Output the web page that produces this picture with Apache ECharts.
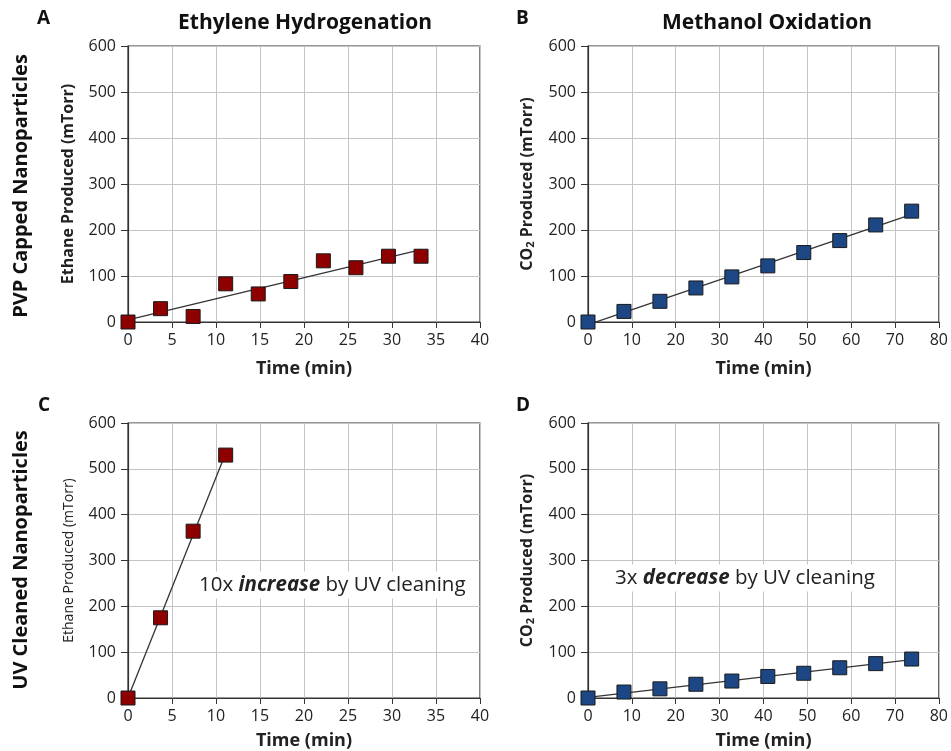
<!DOCTYPE html>
<html>
<head>
<meta charset="utf-8">
<script src="https://cdn.jsdelivr.net/npm/echarts@6/dist/echarts.min.js"></script>
<style>
  html, body { margin: 0; padding: 0; background: #fff; }
  #chart { width: 951px; height: 751px; }
</style>
</head>
<body>
<div id="chart"></div>
<script>
// Panel data
const timeEthyleneA = [0, 3.7, 7.4, 11.1, 14.8, 18.5, 22.2, 25.9, 29.6, 33.3];
const ethaneA = [0, 29, 12, 83, 61, 88, 133, 118, 143, 143];

const timeMethanolB = [0, 8.2, 16.4, 24.6, 32.8, 41.0, 49.2, 57.4, 65.6, 73.8];
const co2B = [0, 23, 45, 74, 98, 122, 151, 177, 211, 241];

const timeEthyleneC = [0, 3.7, 7.4, 11.1];
const ethaneC = [0, 175, 364, 530];

const timeMethanolD = [0, 8.2, 16.4, 24.6, 32.8, 41.0, 49.2, 57.4, 65.6, 73.8];
const co2D = [0, 13, 20, 30, 37, 47, 54, 66, 75, 85];

const yTicks = [0, 100, 200, 300, 400, 500, 600];
const xTicksEthylene = [0, 5, 10, 15, 20, 25, 30, 35, 40];
const xTicksMethanol = [0, 10, 20, 30, 40, 50, 60, 70, 80];

const FONT = '"Open Sans", "Liberation Sans", sans-serif';
const RED = '#8e0000';
const BLUE = '#1c4784';

function zip(xs, ys) { return xs.map((x, i) => [x, ys[i]]); }

// least-squares trend line through the data, from first to last x
function trend(xs, ys) {
  const n = xs.length;
  const mx = xs.reduce((a, b) => a + b, 0) / n;
  const my = ys.reduce((a, b) => a + b, 0) / n;
  let sxy = 0, sxx = 0;
  for (let i = 0; i < n; i++) {
    sxy += (xs[i] - mx) * (ys[i] - my);
    sxx += (xs[i] - mx) * (xs[i] - mx);
  }
  const k = sxy / sxx, b = my - k * mx;
  const x0 = xs[0], x1 = xs[n - 1];
  return [[x0, b + k * x0], [x1, b + k * x1]];
}

const grids = [
  { left: 128, top: 46, width: 352, height: 276 },
  { left: 588, top: 46, width: 352, height: 276 },
  { left: 128, top: 423, width: 352, height: 276 },
  { left: 588, top: 423, width: 352, height: 276 }
];

function xAxis(i, ticks, gap) {
  return {
    type: 'value', gridIndex: i,
    min: ticks[0], max: ticks[ticks.length - 1], interval: ticks[1] - ticks[0],
    name: 'Time (min)', nameLocation: 'middle', nameGap: gap,
    nameTextStyle: { fontFamily: FONT, fontWeight: 'bold', fontSize: 18, color: '#222' },
    axisLine: { lineStyle: { color: '#333', width: 1.2 } },
    axisTick: { show: true, length: 6, lineStyle: { color: '#333' } },
    axisLabel: { fontFamily: FONT, fontSize: 16, color: '#222', margin: 10 },
    splitLine: { lineStyle: { color: '#c4c4c4', width: 1 } }
  };
}

function yAxis(i, name, bold, size) {
  const w = bold ? 'bold' : 'normal';
  return {
    type: 'value', gridIndex: i,
    min: yTicks[0], max: yTicks[yTicks.length - 1], interval: yTicks[1] - yTicks[0],
    name: name, nameLocation: 'middle', nameGap: 52, nameRotate: 90,
    nameTextStyle: {
      fontFamily: FONT, fontWeight: w, fontSize: size, color: '#222',
      rich: {
        n: { fontFamily: FONT, fontWeight: w, fontSize: size, color: '#222' },
        sub: { fontFamily: FONT, fontWeight: w, fontSize: 11, color: '#222', verticalAlign: 'bottom', padding: [7, 0, 0, 0] }
      }
    },
    axisLine: { show: true, lineStyle: { color: '#333', width: 1.2 } },
    axisTick: { show: true, length: 7, lineStyle: { color: '#333' } },
    axisLabel: { fontFamily: FONT, fontSize: 16, color: '#222', margin: 12 },
    splitLine: { lineStyle: { color: '#c4c4c4', width: 1 } }
  };
}

function scatter(i, data, color) {
  return {
    type: 'scatter', xAxisIndex: i, yAxisIndex: i, data: data,
    symbol: 'rect', symbolSize: 14, z: 3,
    itemStyle: { color: color, borderColor: '#1a1a1a', borderWidth: 1, opacity: 1 }
  };
}

function fitLine(i, data) {
  return {
    type: 'line', xAxisIndex: i, yAxisIndex: i, data: data,
    symbol: 'none', clip: true, z: 2,
    lineStyle: { color: '#333', width: 1.3 }
  };
}

function note(x, y, plain, strong) {
  return {
    type: 'text', x: x, y: y, z: 10,
    style: {
      text: '{n|' + plain + ' }{b|' + strong + '}{n| by UV cleaning}',
      align: 'left', verticalAlign: 'middle',
      backgroundColor: '#fff', padding: [3, 2],
      rich: {
        n: { font: '20.5px ' + FONT, fill: '#222' },
        b: { font: 'italic bold 20.5px ' + FONT, fill: '#222' }
      }
    }
  };
}

const option = {
  backgroundColor: '#fff',
  animation: false,
  grid: grids.map(g => Object.assign({ show: true, borderColor: '#333', borderWidth: 1.2 }, g)),
  xAxis: [
    xAxis(0, xTicksEthylene, 38), xAxis(1, xTicksMethanol, 38),
    xAxis(2, xTicksEthylene, 34), xAxis(3, xTicksMethanol, 34)
  ],
  yAxis: [
    yAxis(0, 'Ethane Produced (mTorr)', true, 16),
    yAxis(1, '{n|CO}{sub|2}{n| Produced (mTorr)}', true, 16),
    yAxis(2, 'Ethane Produced (mTorr)', false, 14),
    yAxis(3, '{n|CO}{sub|2}{n| Produced (mTorr)}', true, 16)
  ],
  series: [
    fitLine(0, trend(timeEthyleneA, ethaneA)),
    scatter(0, zip(timeEthyleneA, ethaneA), RED),
    fitLine(1, trend(timeMethanolB, co2B)),
    scatter(1, zip(timeMethanolB, co2B), BLUE),
    fitLine(2, trend(timeEthyleneC, ethaneC)),
    scatter(2, zip(timeEthyleneC, ethaneC), RED),
    fitLine(3, trend(timeMethanolD, co2D)),
    scatter(3, zip(timeMethanolD, co2D), BLUE)
  ],
  graphic: [
    // panel titles
    { type: 'text', left: 178, top: 13, style: { text: 'Ethylene Hydrogenation', font: 'bold 21px ' + FONT, fill: '#111' } },
    { type: 'text', left: 662, top: 13, style: { text: 'Methanol Oxidation', font: 'bold 21px ' + FONT, fill: '#111' } },
    // panel letters
    { type: 'text', left: 37, top: 9, style: { text: 'A', font: 'bold 19px ' + FONT, fill: '#111' } },
    { type: 'text', left: 516, top: 9, style: { text: 'B', font: 'bold 19px ' + FONT, fill: '#111' } },
    { type: 'text', left: 38, top: 396, style: { text: 'C', font: 'bold 19px ' + FONT, fill: '#111' } },
    { type: 'text', left: 516, top: 396, style: { text: 'D', font: 'bold 19px ' + FONT, fill: '#111' } },
    // row labels
    {
      type: 'text', x: 21, y: 186, rotation: Math.PI / 2,
      style: { text: 'PVP Capped Nanoparticles', font: 'bold 20px ' + FONT, fill: '#111', align: 'center', verticalAlign: 'middle' }
    },
    {
      type: 'text', x: 21, y: 560, rotation: Math.PI / 2,
      style: { text: 'UV Cleaned Nanoparticles', font: 'bold 20px ' + FONT, fill: '#111', align: 'center', verticalAlign: 'middle' }
    },
    // annotations
    note(197, 585, '10x', 'increase'),
    note(613, 578, '3x', 'decrease')
  ]
};

const chart = echarts.init(document.getElementById('chart'), null, { renderer: 'canvas' });
chart.setOption(option);
</script>
</body>
</html>
